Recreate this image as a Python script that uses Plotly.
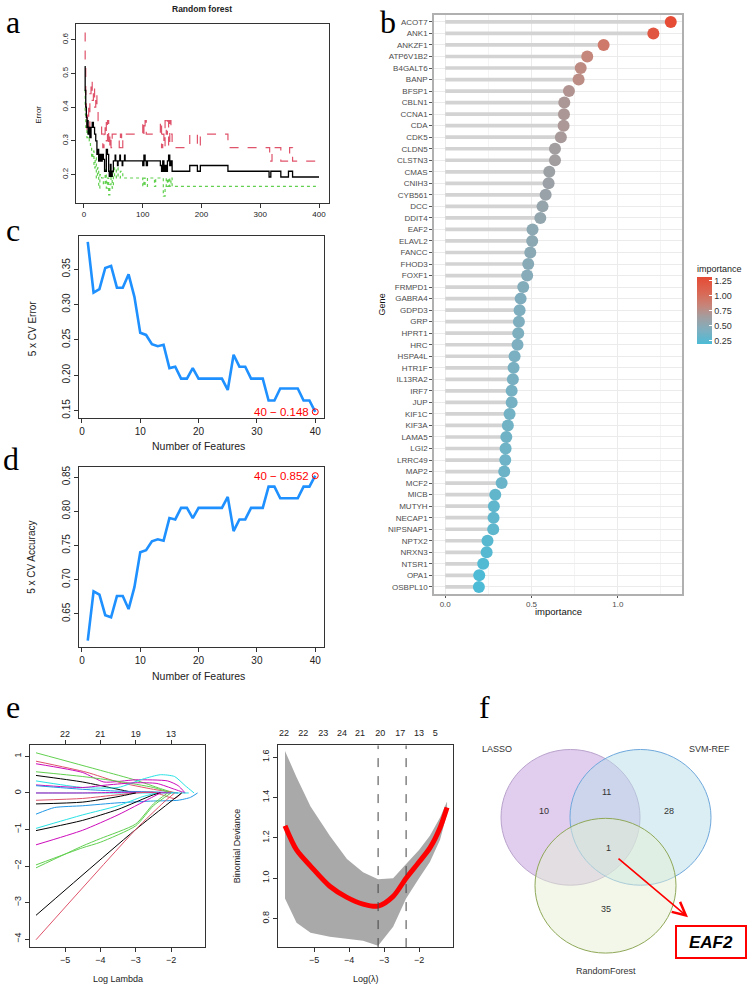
import plotly.graph_objects as go

W, H = 748, 987

# ---------------- Panel a : random forest error vs trees (step knots) -------------
rf_oob_trees = [1,2,3,4,5,6,7,8,10,12,14,16,18,20,22,23,25,27,29,31,33,35,38,40,42,43,45,46,48,50,
                53,54,57,58,61,62,65,66,69,70,100,102,104,106,108,130,132,134,136,138,140,142,144,146,
                148,150,180,193,198,245,315,318,335,348,355,400]
rf_oob_err = [0.52,0.45,0.40,0.37,0.34,0.36,0.32,0.34,0.31,0.34,0.355,0.34,0.32,0.30,0.26,0.275,0.24,0.26,
              0.24,0.26,0.245,0.21,0.275,0.26,0.21,0.195,0.23,0.195,0.21,0.241,0.258,0.241,0.227,0.241,
              0.258,0.241,0.227,0.241,0.258,0.241,0.227,0.258,0.241,0.227,0.241,0.227,0.21,0.241,0.21,
              0.227,0.21,0.241,0.258,0.227,0.241,0.21,0.227,0.21,0.227,0.21,0.193,0.21,0.193,0.21,0.193,0.193]
rf_c1_trees = [1,2,3,4,5,6,8,10,12,14,16,18,20,22,24,30,32,34,36,38,40,42,44,46,48,60,62,64,66,100,
               102,104,106,130,132,134,136,138,140,142,144,146,148,150,180,193,198,245,316,320,335,350,355,400]
rf_c1_err = [0.62,0.52,0.42,0.36,0.33,0.40,0.34,0.44,0.48,0.42,0.46,0.40,0.44,0.40,0.36,0.32,0.28,0.32,
             0.36,0.30,0.36,0.28,0.32,0.28,0.32,0.28,0.32,0.28,0.32,0.36,0.32,0.36,0.32,0.36,0.28,0.32,
             0.28,0.36,0.32,0.36,0.28,0.36,0.32,0.28,0.32,0.28,0.32,0.28,0.24,0.28,0.24,0.28,0.24,0.24]
rf_c2_trees = [1,2,3,5,7,9,11,13,15,17,19,21,23,25,27,30,33,36,38,40,42,44,46,48,50,52,55,58,62,66,
               100,102,104,108,120,122,135,138,140,142,144,146,148,150,400]
rf_c2_err = [0.45,0.38,0.34,0.31,0.33,0.30,0.28,0.25,0.27,0.22,0.25,0.19,0.22,0.16,0.20,0.19,0.17,0.22,
             0.16,0.19,0.14,0.17,0.20,0.16,0.22,0.19,0.22,0.19,0.21,0.19,0.165,0.19,0.165,0.19,0.165,
             0.19,0.136,0.165,0.19,0.165,0.19,0.165,0.19,0.165,0.165]

# ---------------- Panels c / d : SVM-RFE -------------
n_features = list(range(1, 41))
cv_error = [0.389,0.317,0.322,0.352,0.355,0.324,0.324,0.343,0.311,0.260,0.257,0.244,0.241,0.243,0.210,
            0.212,0.195,0.195,0.210,0.195,0.195,0.195,0.195,0.195,0.179,0.229,0.212,0.212,0.195,0.195,
            0.195,0.164,0.164,0.181,0.181,0.181,0.181,0.164,0.164,0.148]
cv_accuracy = [0.611,0.683,0.678,0.648,0.645,0.676,0.676,0.657,0.689,0.740,0.743,0.756,0.759,0.757,0.790,
               0.788,0.805,0.805,0.790,0.805,0.805,0.805,0.805,0.805,0.821,0.771,0.788,0.788,0.805,0.805,
               0.805,0.836,0.836,0.819,0.819,0.819,0.819,0.836,0.836,0.852]

# ---------------- Panel e left : LASSO coefficient paths (knots) -------------
lasso_colors = ['#61D04F','#DF536B','#CD0BBC','#61D04F','#000000','#28E2E5','#CD0BBC','#2297E6',
                '#28E2E5','#CD0BBC','#DF536B','#000000','#2297E6','#28E2E5','#000000','#CD0BBC',
                '#61D04F','#61D04F','#000000','#DF536B']
lasso_x = [
    [-5.82,-4.0,-3.0,-2.3,-1.9],
    [-5.82,-4.4,-3.5,-2.5,-1.8],
    [-5.82,-4.5,-3.9,-3.0,-2.1,-1.8,-1.6],
    [-5.82,-4.5,-3.5,-2.5,-2.0],
    [-5.82,-4.5,-3.5,-3.0],
    [-5.82,-4.5,-3.5,-2.8,-2.3,-1.9,-1.6,-1.35],
    [-5.82,-4.5,-3.8,-3.0,-2.4,-1.9,-1.6],
    [-5.82,-4.5,-3.5,-2.5,-1.8],
    [-5.82,-4.0,-2.5,-1.5],
    [-5.82,-4.5,-3.0,-2.0],
    [-5.82,-4.5,-3.5,-2.5,-1.9,-1.7],
    [-5.82,-4.5,-3.5,-3.0],
    [-5.82,-5.3,-4.5,-3.5,-2.5,-1.8,-1.45,-1.25],
    [-5.82,-4.5,-3.5,-2.8,-2.4],
    [-5.82,-4.5,-3.5,-2.5,-2.3],
    [-5.82,-4.5,-3.5,-2.6,-2.3],
    [-5.82,-4.5,-4.0,-3.0,-2.5,-2.0],
    [-5.82,-4.5,-4.0,-3.0,-2.5,-2.1],
    [-5.82,-3.0,-1.7],
    [-5.82,-3.0,-2.2,-1.9],
]
lasso_y = [
    [1.10,0.62,0.35,0.12,0.0],
    [0.87,0.57,0.30,0.10,0.0],
    [0.80,0.56,0.30,0.36,0.33,0.20,0.0],
    [0.58,0.45,0.32,0.15,0.0],
    [0.48,0.30,0.10,0.0],
    [0.33,0.15,0.15,0.38,0.50,0.45,0.20,0.0],
    [0.22,0.15,0.22,0.28,0.26,0.10,0.0],
    [0.20,0.10,0.05,0.03,0.0],
    [0.0,0.0,0.0,0.0],
    [0.0,0.0,0.02,0.0],
    [-0.20,-0.15,-0.05,0.02,-0.15,0.0],
    [-0.30,-0.25,-0.10,0.0],
    [-0.58,-0.40,-0.35,-0.27,-0.22,-0.20,-0.12,0.0],
    [-0.97,-0.60,-0.35,-0.10,0.0],
    [-1.03,-0.75,-0.45,-0.05,0.0],
    [-1.42,-1.02,-0.60,-0.15,0.0],
    [-1.97,-1.50,-1.35,-0.90,-0.35,0.0],
    [-2.05,-1.45,-1.25,-0.85,-0.30,0.0],
    [-3.35,-1.00,0.0],
    [-4.02,-1.00,-0.25,0.0],
]
lasso_top_ticks = [-5, -4, -3, -2]
lasso_top_labels = ['22', '21', '19', '13']

# ---------------- Panel e right : cross-validated deviance -------------
cv_loglambda = [-5.83,-5.5,-5.1,-4.55,-4.06,-3.6,-3.17,-2.74,-2.37,-2.0,-1.69,-1.4,-1.2]
cv_mean = [1.26,1.14,1.06,0.96,0.905,0.872,0.862,0.91,1.0,1.08,1.15,1.25,1.35]
cv_upper = [1.63,1.50,1.355,1.21,1.095,1.03,0.995,1.0,1.07,1.14,1.21,1.30,1.38]
cv_lower = [0.90,0.78,0.73,0.71,0.70,0.69,0.665,0.76,0.90,1.00,1.08,1.19,1.32]
lambda_min_log = -3.17
lambda_1se_log = -2.37
cv_top_ticks = [-5.86,-5.31,-4.74,-4.2,-3.69,-3.11,-2.54,-2.0,-1.54]
cv_top_labels = ['22','22','23','24','21','20','17','13','5']

# ---------------- Panel b : gene importance -------------
genes = ['ACOT7','ANK1','ANKZF1','ATP6V1B2','B4GALT6','BANP','BFSP1','CBLN1','CCNA1','CDA','CDK5',
         'CLDN5','CLSTN3','CMAS','CNIH3','CYB561','DCC','DDIT4','EAF2','ELAVL2','FANCC','FHOD3','FOXF1',
         'FRMPD1','GABRA4','GDPD3','GRP','HPRT1','HRC','HSPA4L','HTR1F','IL13RA2','IRF7','JUP','KIF1C',
         'KIF3A','LAMA5','LGI2','LRRC49','MAP2','MCF2','MICB','MUTYH','NECAP1','NIPSNAP1','NPTX2',
         'NRXN3','NTSR1','OPA1','OSBPL10']
importance = [1.307,1.206,0.918,0.823,0.785,0.773,0.717,0.690,0.688,0.686,0.670,0.636,0.636,0.603,
              0.599,0.582,0.564,0.551,0.506,0.504,0.493,0.481,0.475,0.452,0.437,0.431,0.427,0.423,
              0.419,0.402,0.396,0.392,0.385,0.385,0.373,0.363,0.354,0.350,0.348,0.342,0.327,0.290,
              0.282,0.280,0.278,0.245,0.240,0.220,0.197,0.195]
imp_ticks = [0.25, 0.5, 0.75, 1.0, 1.25]
imp_ticklabels = ['0.25', '0.50', '0.75', '1.00', '1.25']

# ---------------- Panel f : Venn -------------
venn_sets = ['LASSO', 'SVM-REF', 'RandomForest']
venn_counts = {'LASSO': 10, 'LASSO&SVM-REF': 11, 'SVM-REF': 28, 'ALL': 1, 'RandomForest': 35}
common_gene = 'EAF2'

# ====================================================================
def xd(l, r):
    return [l / W, r / W]

def yd(t, b):
    return [1 - b / H, 1 - t / H]

def px(x):
    return x / W

def py(y):
    return 1 - y / H

FONT = 'Liberation Sans'


def raxis(domain, rng, anchor, tickvals=None, dtick=None, size=9, angle=0, tickformat=None):
    d = dict(domain=domain, range=rng, anchor=anchor, showline=True, mirror=True,
             linecolor='#333333', linewidth=1, ticks='outside', ticklen=4, tickcolor='#333333',
             showgrid=False, zeroline=False, tickangle=angle,
             tickfont=dict(size=size, color='#222222', family=FONT))
    if tickvals is not None:
        d['tickvals'] = tickvals
        d['tickmode'] = 'array'
    if dtick is not None:
        d['dtick'] = dtick
        d['tick0'] = 0
    if tickformat:
        d['tickformat'] = tickformat
    return d


fig = go.Figure()

# Panel a
fig.add_trace(go.Scatter(x=rf_c1_trees, y=rf_c1_err, mode='lines', line_shape='hv',
                         line=dict(color='#DF536B', width=1.2, dash='dash'), xaxis='x', yaxis='y'))
fig.add_trace(go.Scatter(x=rf_c2_trees, y=rf_c2_err, mode='lines', line_shape='hv',
                         line=dict(color='#61D04F', width=1.2, dash='dot'), xaxis='x', yaxis='y'))
fig.add_trace(go.Scatter(x=rf_oob_trees, y=rf_oob_err, mode='lines', line_shape='hv',
                         line=dict(color='#000000', width=1.3), xaxis='x', yaxis='y'))

# Panel c
fig.add_trace(go.Scatter(x=n_features, y=cv_error, mode='lines', line=dict(color='#1E90FF', width=2.6),
                         xaxis='x2', yaxis='y2'))
fig.add_trace(go.Scatter(x=[n_features[-1]], y=[cv_error[-1]], mode='markers',
                         marker=dict(symbol='circle-open', color='#FF0000', size=6, line=dict(width=1)),
                         xaxis='x2', yaxis='y2'))
# Panel d
fig.add_trace(go.Scatter(x=n_features, y=cv_accuracy, mode='lines', line=dict(color='#1E90FF', width=2.6),
                         xaxis='x3', yaxis='y3'))
fig.add_trace(go.Scatter(x=[n_features[-1]], y=[cv_accuracy[-1]], mode='markers',
                         marker=dict(symbol='circle-open', color='#FF0000', size=6, line=dict(width=1)),
                         xaxis='x3', yaxis='y3'))

# Panel e left
for c, xs, ys in zip(lasso_colors, lasso_x, lasso_y):
    fig.add_trace(go.Scatter(x=xs, y=ys, mode='lines', line=dict(color=c, width=1, shape='spline',
                                                                   smoothing=0.6),
                             xaxis='x4', yaxis='y4'))
fig.add_trace(go.Scatter(x=lasso_top_ticks, y=[None] * len(lasso_top_ticks), mode='markers',
                         marker=dict(opacity=0), xaxis='x8', yaxis='y4', hoverinfo='skip'))

# Panel e right
fig.add_trace(go.Scatter(x=cv_loglambda + cv_loglambda[::-1], y=cv_upper + cv_lower[::-1],
                         fill='toself', fillcolor='#A9A9A9', line=dict(width=0, color='#A9A9A9'),
                         mode='lines', xaxis='x5', yaxis='y5'))
fig.add_trace(go.Scatter(x=cv_loglambda, y=cv_mean, mode='lines',
                         line=dict(color='#FF0000', width=5, shape='spline', smoothing=0.8),
                         xaxis='x5', yaxis='y5'))
fig.add_trace(go.Scatter(x=cv_top_ticks, y=[None] * len(cv_top_ticks), mode='markers',
                         marker=dict(opacity=0), xaxis='x9', yaxis='y5', hoverinfo='skip'))

# Panel b
colorscale = [[0.0, '#4DBBD5'], [0.2, '#7DAFC0'], [0.41, '#A49D9E'], [0.57, '#C6857A'],
              [0.75, '#D86A57'], [1.0, '#E64B35']]
fig.add_trace(go.Bar(x=importance, y=genes, orientation='h', width=0.32, marker=dict(color='#D3D3D3',
                     line=dict(width=0)), xaxis='x6', yaxis='y6'))
fig.add_trace(go.Scatter(x=importance, y=genes, mode='markers', xaxis='x6', yaxis='y6',
                         marker=dict(size=12, color=importance, colorscale=colorscale,
                                     cmin=min(importance), cmax=max(importance), line=dict(width=0),
                                     colorbar=dict(title=dict(text='importance', side='top',
                                                              font=dict(size=9, color='#222', family=FONT)),
                                                   x=697 / W, xanchor='left', y=py(343), yanchor='bottom',
                                                   len=82, lenmode='pixels', thickness=15,
                                                   thicknessmode='pixels', tickvals=imp_ticks,
                                                   ticktext=imp_ticklabels, ticks='inside', tickcolor='white',
                                                   ticklen=3, outlinewidth=0, xpad=0, ypad=0,
                                                   tickfont=dict(size=9, color='#333', family=FONT)))))

# Panel f dummy to create axes
fig.add_trace(go.Scatter(x=[600], y=[800], mode='markers', marker=dict(opacity=0), xaxis='x7', yaxis='y7',
                         hoverinfo='skip'))

layout = dict(
    width=W, height=H, margin=dict(l=0, r=0, t=0, b=0), showlegend=False,
    paper_bgcolor='white', plot_bgcolor='white', font=dict(family=FONT, color='#222'),
    xaxis=raxis(xd(76, 329), [-13.6, 417], 'y', dtick=100, size=8),
    yaxis=raxis(yd(22, 201), [0.117, 0.647], 'x', tickvals=[0.2, 0.3, 0.4, 0.5, 0.6], size=8, angle=-90),
    xaxis2=raxis(xd(79, 324), [-0.5, 41.5], 'y2', dtick=10, size=10),
    yaxis2=raxis(yd(234, 417), [0.139, 0.398], 'x2', tickvals=[0.15, 0.2, 0.25, 0.3, 0.35], size=10,
                 angle=-90, tickformat='.2f'),
    xaxis3=raxis(xd(79, 324), [-0.5, 41.5], 'y3', dtick=10, size=10),
    yaxis3=raxis(yd(466, 646), [0.602, 0.8646], 'x3', tickvals=[0.65, 0.7, 0.75, 0.8, 0.85], size=10,
                 angle=-90, tickformat='.2f'),
    xaxis4=raxis(xd(30, 205), [-5.99, -1.04], 'y4', tickvals=[-5, -4, -3, -2], size=9),
    yaxis4=raxis(yd(745, 947), [-4.22, 1.30], 'x4', tickvals=[-4, -3, -2, -1, 0, 1], size=9, angle=-90),
    xaxis8=dict(overlaying='x4', side='top', anchor='y4', range=[-5.99, -1.04], tickmode='array',
                tickvals=lasso_top_ticks, ticktext=lasso_top_labels, ticks='outside', ticklen=4,
                tickcolor='#333', showline=False, showgrid=False, zeroline=False,
                tickfont=dict(size=9, color='#222', family=FONT)),
    xaxis5=raxis(xd(278, 453), [-6.03, -1.03], 'y5', tickvals=[-5, -4, -3, -2], size=9),
    yaxis5=raxis(yd(745, 947), [0.659, 1.657], 'x5', tickvals=[0.8, 1.0, 1.2, 1.4, 1.6], size=9,
                 angle=-90, tickformat='.1f'),
    xaxis9=dict(overlaying='x5', side='top', anchor='y5', range=[-6.03, -1.03], tickmode='array',
                tickvals=cv_top_ticks, ticktext=cv_top_labels, ticks='', ticklen=0, ticklabelstandoff=7,
                showline=False, showgrid=False, zeroline=False,
                tickfont=dict(size=9, color='#222', family=FONT)),
    xaxis6=dict(domain=xd(434, 682), range=[-0.065, 1.372], anchor='y6', tickmode='array',
                tickvals=[0, 0.5, 1.0], ticktext=['0.0', '0.5', '1.0'], showgrid=True, gridcolor='#EBEBEB',
                gridwidth=1, minor=dict(tickvals=[0.25, 0.75, 1.25], showgrid=True, gridcolor='#F4F4F4'),
                zeroline=False, showline=True, mirror=True, linecolor='#B0B0B0', linewidth=1.5,
                ticks='outside', ticklen=2, tickcolor='#555',
                tickfont=dict(size=8, color='#4D4D4D', family=FONT)),
    yaxis6=dict(domain=yd(13, 593), anchor='x6', type='category', categoryorder='array',
                categoryarray=genes[::-1], range=[-0.6, len(genes) - 0.4], showgrid=True,
                gridcolor='#EBEBEB', zeroline=False, showline=True, mirror=True, linecolor='#B0B0B0',
                linewidth=1.5, ticks='outside', ticklen=3, tickcolor='#555',
                tickfont=dict(size=8, color='#4D4D4D', family=FONT)),
    xaxis7=dict(domain=xd(470, 748), range=[470, 748], anchor='y7', visible=False),
    yaxis7=dict(domain=yd(690, 987), range=[987, 690], anchor='x7', visible=False),
)
fig.update_layout(**layout)

ann = []
# Panel letters
for letter, x, y, anchor in [('a', 4, 0, 'top'), ('b', 378, 0, 'top'), ('c', 4, 228, 'middle'),
                             ('d', 1, 458, 'middle'), ('e', 4, 706, 'middle'), ('f', 477, 706, 'middle')]:
    ann.append(dict(text=letter, x=px(x), y=py(y), xref='paper', yref='paper', xanchor='left',
                    yanchor=anchor, showarrow=False, font=dict(family='Liberation Serif', size=32,
                                                                color='#000')))

def lab(text, x, y, size=9, angle=0, color='#222', xanchor='center', bold=False):
    if bold:
        text = '<b>' + text + '</b>'
    ann.append(dict(text=text, x=px(x), y=py(y), xref='paper', yref='paper', xanchor=xanchor,
                    yanchor='middle', showarrow=False, textangle=angle,
                    font=dict(size=size, color=color, family=FONT)))

lab('Random forest', 202, 7, size=8.5, bold=True)
lab('Error', 39, 113, size=8, angle=-90)
lab('5 x CV Error', 32, 327, size=10, angle=-90)
lab('Number of Features', 198, 445, size=10.5)
lab('5 x CV Accuracy', 32, 556, size=10, angle=-90)
lab('Number of Features', 198, 675, size=10.5)
lab('Log Lambda', 118, 979, size=9)
lab('Binomial Deviance', 237, 846, size=9, angle=-90)
lab('Log(\u03bb)', 366, 979, size=9)
lab('Gene', 382, 303, size=9, angle=-90, color='#111')
lab('importance', 558, 611, size=9.5, color='#111')

# End-point labels c / d
ann.append(dict(text=f"{n_features[-1]} \u2212 {cv_error[-1]:.3f}", x=n_features[-1], y=cv_error[-1],
                xref='x2', yref='y2', xanchor='right', yanchor='middle', xshift=-4, showarrow=False,
                font=dict(size=11.5, color='#FF0000', family=FONT)))
ann.append(dict(text=f"{n_features[-1]} \u2212 {cv_accuracy[-1]:.3f}", x=n_features[-1], y=cv_accuracy[-1],
                xref='x3', yref='y3', xanchor='right', yanchor='middle', xshift=-4, showarrow=False,
                font=dict(size=11.5, color='#FF0000', family=FONT)))

# Venn labels (layout positions in pixel space of axis 7)
def vlab(text, x, y, size=9):
    ann.append(dict(text=text, x=x, y=y, xref='x7', yref='y7', showarrow=False,
                    font=dict(size=size, color='#333', family=FONT)))

vlab(venn_sets[0], 497, 749)
vlab(venn_sets[1], 709, 749)
vlab(venn_sets[2], 606, 971)
vlab(str(venn_counts['LASSO']), 544, 811)
vlab(str(venn_counts['LASSO&SVM-REF']), 606, 792)
vlab(str(venn_counts['SVM-REF']), 669, 811)
vlab(str(venn_counts['ALL']), 608, 848)
vlab(str(venn_counts['RandomForest']), 606, 909)
ann.append(dict(x=688, y=917, ax=617, ay=857, xref='x7', yref='y7', axref='x7', ayref='y7',
                showarrow=True, arrowhead=5, arrowsize=1.6, arrowwidth=1.6, arrowcolor='#FF0000',
                text=''))
ann.append(dict(text='<b><i>' + common_gene + '</i></b>', x=711, y=942, xref='x7', yref='y7',
                showarrow=False, font=dict(size=17, color='#000', family=FONT)))
fig.update_layout(annotations=ann)

shapes = [
    dict(type='line', xref='x5', yref='y5 domain', x0=lambda_min_log, x1=lambda_min_log, y0=0, y1=1,
         line=dict(color='#444', width=1, dash='dash')),
    dict(type='line', xref='x5', yref='y5 domain', x0=lambda_1se_log, x1=lambda_1se_log, y0=0, y1=1,
         line=dict(color='#444', width=1, dash='dash')),
    dict(type='circle', xref='x7', yref='y7', x0=501, x1=640, y0=749, y1=885,
         fillcolor='rgba(196,156,222,0.5)', line=dict(color='#B9A3CC', width=1)),
    dict(type='circle', xref='x7', yref='y7', x0=570, x1=711, y0=749, y1=885,
         fillcolor='rgba(184,221,232,0.5)', line=dict(color='#6FA8DC', width=1)),
    dict(type='circle', xref='x7', yref='y7', x0=535, x1=676, y0=818, y1=953,
         fillcolor='rgba(230,239,211,0.5)', line=dict(color='#8FA858', width=1)),
    dict(type='rect', xref='x7', yref='y7', x0=676, x1=746, y0=926, y1=958,
         line=dict(color='#FF0000', width=2)),
]
fig.update_layout(shapes=shapes)

fig.write_html('out.html', config={'displayModeBar': False},
               post_script="document.body.style.margin='0';document.body.style.overflow='hidden';")
